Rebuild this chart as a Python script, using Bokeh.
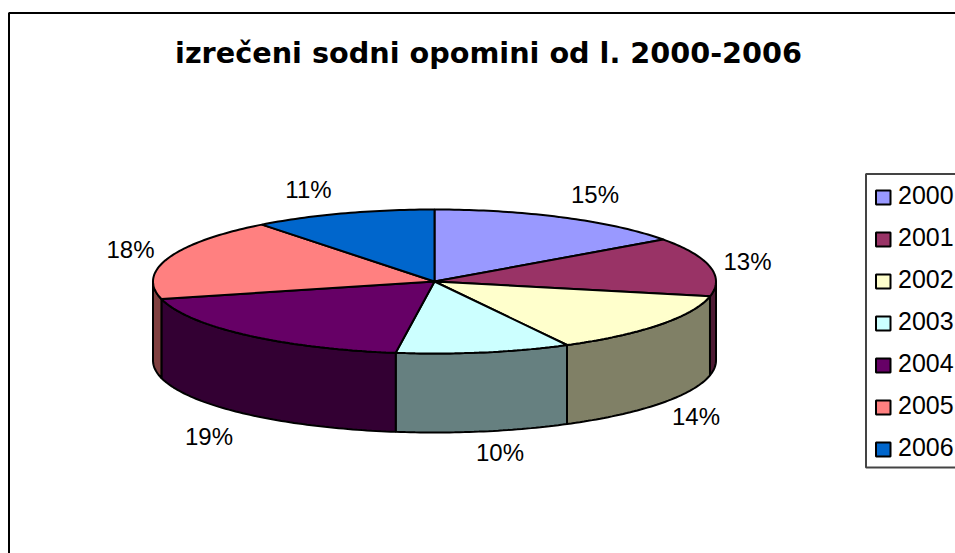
import math
from bokeh.plotting import figure
from bokeh.models import Range1d
from bokeh.embed import file_html
from bokeh.resources import INLINE

# ---- data ----
title = "izrečeni sodni opomini od l. 2000-2006"
years = ["2000", "2001", "2002", "2003", "2004", "2005", "2006"]
shares = [15.1, 13.2, 13.9, 10.0, 18.9, 18.4, 10.5]
share_labels = ["15%", "13%", "14%", "10%", "19%", "18%", "11%"]
top_colors = ["#9999FF", "#993366", "#FFFFCC", "#CCFFFF", "#660066", "#FF8080", "#0066CC"]
side_colors = ["#4D4D80", "#4D1A33", "#808066", "#668080", "#330033", "#804040", "#003366"]

# ---- layout (page pixels) ----
CX, CY, RX, RY, DEPTH = 434, 281, 281.5, 72, 79
label_xy = [(594.5, 193.5), (747, 261), (695.5, 416), (499.5, 451.5),
            (208.5, 435.5), (130, 249), (308, 188.5)]

p = figure(width=955, height=553, output_backend="svg", toolbar_location=None,
           x_range=Range1d(0, 955), y_range=Range1d(553, 0),
           x_axis_location=None, y_axis_location=None, min_border=0,
           outline_line_color=None, background_fill_color="white", border_fill_color="white")
p.grid.visible = False


def rim(deg, drop=0.0):
    r = math.radians(deg)
    return CX + RX * math.sin(r), CY - RY * math.cos(r) + drop


def arc(a, b, drop=0.0):
    n = max(2, int(abs(b - a)) + 1)
    return [rim(a + (b - a) * i / (n - 1), drop) for i in range(n)]


# cumulative angles, clockwise from the top
total = sum(shares)
edges = [0.0]
for s in shares:
    edges.append(edges[-1] + 360.0 * s / total)

# outer frame (continues past the page)
p.quad(left=[8.5], right=[2000], top=[12.5], bottom=[2000], fill_color=None,
       line_color="black", line_width=2)

# front walls
wx, wy, wc = [], [], []
for i in range(len(shares)):
    a, b = max(edges[i], 90.0), min(edges[i + 1], 270.0)
    if b <= a:
        continue
    pts = arc(a, b) + arc(b, a, DEPTH)
    wx.append([q[0] for q in pts])
    wy.append([q[1] for q in pts])
    wc.append(side_colors[i])
p.patches(wx, wy, fill_color=wc, line_color="black", line_width=2)

# top faces
tx, ty = [], []
for i in range(len(shares)):
    pts = [(CX, CY)] + arc(edges[i], edges[i + 1])
    tx.append([q[0] for q in pts])
    ty.append([q[1] for q in pts])
p.patches(tx, ty, fill_color=top_colors, line_color="black", line_width=2)

# percentage labels
p.text([q[0] for q in label_xy], [q[1] for q in label_xy], text=share_labels,
       text_font={"value": "Liberation Sans"}, text_font_size="24px",
       text_color="black", text_align="center", text_baseline="middle")

# title
p.text([488], [52], text=[title], text_font={"value": "DejaVu Sans"}, text_font_style="bold",
       text_font_size="28.7px", text_color="black", text_align="center", text_baseline="middle")

# legend
LEFT, TOP, BOTTOM = 865.5, 173.5, 467
p.quad(left=[LEFT], right=[2000], top=[TOP], bottom=[BOTTOM], fill_color="white",
       line_color="#444444", line_width=2)
rows = [197 + 42 * i for i in range(len(years))]
p.quad(left=[875.5] * 7, right=[890] * 7, top=[r - 7 for r in rows], bottom=[r + 7 for r in rows],
       fill_color=top_colors, line_color="black", line_width=2)
p.text([897.5] * 7, [r - 3 for r in rows], text=years, text_font={"value": "Liberation Sans"},
       text_font_size="25px", text_color="black", text_align="left", text_baseline="middle")

open("out.html", "w").write(file_html(p, INLINE))
